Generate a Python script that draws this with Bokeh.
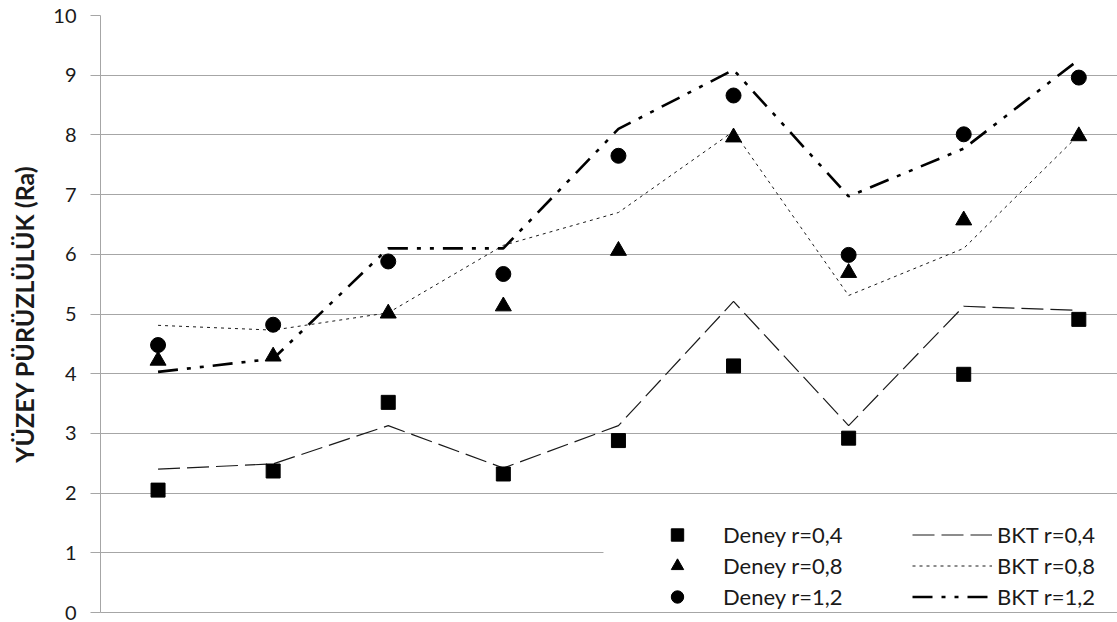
from bokeh.plotting import figure
from bokeh.models import Range1d, FixedTicker, Legend, LegendItem, BoxAnnotation
from bokeh.embed import file_html
from bokeh.resources import INLINE

# ---- data ----
x_pos = [1, 2, 3, 4, 5, 6, 7, 8, 9]
deney_04 = [2.05, 2.37, 3.52, 2.32, 2.88, 4.13, 2.92, 3.99, 4.91]
deney_08 = [4.22, 4.29, 5.01, 5.13, 6.06, 7.96, 5.69, 6.57, 7.98]
deney_12 = [4.48, 4.82, 5.88, 5.67, 7.65, 8.66, 5.99, 8.01, 8.96]
bkt_04 = [2.40, 2.49, 3.13, 2.42, 3.13, 5.21, 3.13, 5.13, 5.06]
bkt_08 = [4.81, 4.73, 5.02, 6.15, 6.70, 8.06, 5.31, 6.10, 8.00]
bkt_12 = [4.03, 4.25, 6.10, 6.10, 8.10, 9.09, 6.97, 7.77, 9.26]
y_ticks = [0, 1, 2, 3, 4, 5, 6, 7, 8, 9, 10]
y_title = "YÜZEY PÜRÜZLÜLÜK (Ra)"
labels_deney = ["Deney r=0,4", "Deney r=0,8", "Deney r=1,2"]
labels_bkt = ["BKT r=0,4", "BKT r=0,8", "BKT r=1,2"]

GRID = "#a6a6a6"
FONT = "Lato"

p = figure(width=1117, height=622, output_backend="svg", toolbar_location=None,
           x_range=Range1d(0.5, 9.336), y_range=Range1d(0, 10),
           min_border_left=100, min_border_right=0, min_border_top=15, min_border_bottom=10)
p.outline_line_color = None
p.background_fill_color = "white"

# grid
p.xgrid.visible = False
p.ygrid.ticker = FixedTicker(ticks=y_ticks)
p.ygrid.grid_line_color = GRID
p.ygrid.grid_line_width = 1

# y axis
p.yaxis.ticker = FixedTicker(ticks=y_ticks)
p.yaxis.axis_line_color = GRID
p.yaxis.major_tick_line_color = GRID
p.yaxis.major_tick_out = 10
p.yaxis.major_tick_in = 0
p.yaxis.minor_tick_line_color = None
p.yaxis.major_label_standoff = 14
p.yaxis.major_label_text_font = FONT
p.yaxis.major_label_text_font_size = "20px"
p.yaxis.major_label_text_color = "#1a1a1a"
p.yaxis.axis_label = y_title
p.yaxis.axis_label_text_font = FONT
p.yaxis.axis_label_text_font_style = "bold"
p.yaxis.axis_label_text_font_size = "25px"
p.yaxis.axis_label_text_color = "#1a1a1a"
p.yaxis.axis_label_standoff = 11

# x axis: just the baseline
p.xaxis.ticker = FixedTicker(ticks=[])
p.xaxis.axis_line_color = GRID
p.xaxis.major_tick_line_color = None
p.xaxis.minor_tick_line_color = None
p.xaxis.major_tick_out = 0
p.xaxis.major_label_text_font_size = "0px"
p.xaxis.major_label_standoff = 0

# white background behind the legend (covers part of the 1-gridline)
p.add_layout(BoxAnnotation(left=4.87, bottom=0.05, top=1.55, fill_color="white",
                           fill_alpha=1, line_color=None, level="underlay"))

# BKT lines
r_b04 = p.line(x_pos, bkt_04, line_color="#1a1a1a", line_width=1.2, line_dash="22 7")
r_b08 = p.line(x_pos, bkt_08, line_color="#1a1a1a", line_width=1, line_dash="3 4")
r_b12 = p.line(x_pos, bkt_12, line_color="black", line_width=2.6, line_dash="20 9 4 9 4 9")

# Deney markers
r_d04 = p.scatter(x_pos, deney_04, marker="square", size=14, color="black")
r_d08 = p.scatter(x_pos, deney_08, marker="triangle", size=16, color="black")
r_d12 = p.scatter(x_pos, deney_12, marker="circle", size=15, color="black")


def make_legend(items, loc, glyph_w, standoff):
    return Legend(items=items, location=loc, orientation="vertical",
                  glyph_width=glyph_w, glyph_height=31, label_height=31,
                  label_standoff=standoff, spacing=0, padding=0, margin=0,
                  border_line_color=None, background_fill_alpha=0,
                  label_text_font=FONT, label_text_font_size="22px",
                  label_text_color="#1a1a1a")


leg_a = make_legend([LegendItem(label=labels_deney[0], renderers=[r_d04]),
                     LegendItem(label=labels_deney[1], renderers=[r_d08]),
                     LegendItem(label=labels_deney[2], renderers=[r_d12])],
                    (559, 0), 36, 28)
leg_b = make_legend([LegendItem(label=labels_bkt[0], renderers=[r_b04]),
                     LegendItem(label=labels_bkt[1], renderers=[r_b08]),
                     LegendItem(label=labels_bkt[2], renderers=[r_b12])],
                    (812, 0), 80, 5)
p.add_layout(leg_a)
p.add_layout(leg_b)

open("out.html", "w").write(file_html(p, INLINE))
